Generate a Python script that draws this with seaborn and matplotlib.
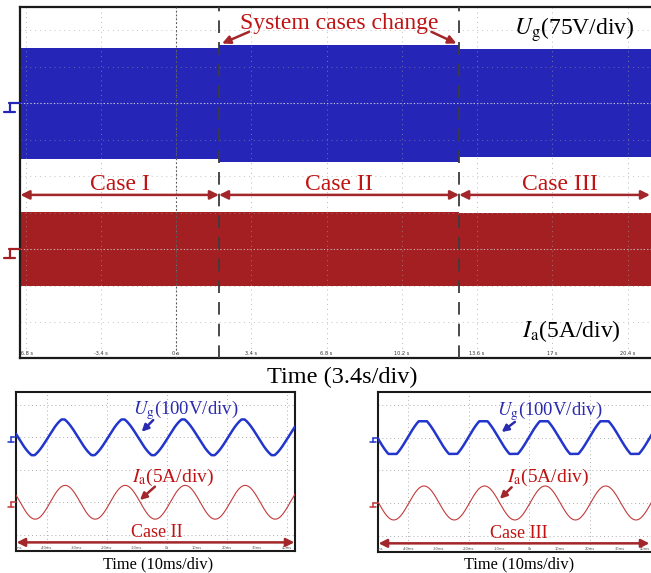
import numpy as np
import pandas as pd
import matplotlib
matplotlib.use("Agg")
import matplotlib.pyplot as plt
from matplotlib.lines import Line2D
from matplotlib.transforms import IdentityTransform
import seaborn as sns

sns.set_theme(style="white")
plt.rcParams["font.family"] = ["Liberation Serif", "DejaVu Serif"]
plt.rcParams["mathtext.fontset"] = "stix"

# ---------------- overview record (3.4 s/div) ----------------
case_names = ["Case I", "Case II", "Case III"]
case_switch_s = [1.94, 12.79]          # instants where the operating case changes
overview_span_s = [-7.05, 21.55]
ug_envelope_v = [114, 120, 111]         # grid-voltage crest in each case
ia_envelope_a = [5.1, 5.1, 5.0]         # phase-current crest in each case
overview_tick_s = [-6.8, -3.4, 0, 3.4, 6.8, 10.2, 13.6, 17, 20.4]
overview_tick_labels = ["-6.8 s", "-3.4 s", "0 s", "3.4 s", "6.8 s",
                        "10.2 s", "13.6 s", "17 s", "20.4 s"]

# ---------------- detailed records (10 ms/div) ----------------
detail_cases = ["Case II", "Case III"]
detail_span_ms = [[-50.3, 42.7], [-50.0, 42.8]]
detail_period_ms = 20.0
detail_ug_peak_v = [110, 100]
detail_ug_crest_ms = [5.4, 4.8]
detail_ug_flatten = [1.06, 1.22]        # crest clipping of the voltage waveform
detail_ia_peak_a = [5.2, 5.2]
detail_ia_crest_ms = [6.1, 5.2]
detail_tick_ms = [-50, -40, -30, -20, -10, 0, 10, 20, 30, 40]
detail_tick_labels = ["-50ms", "-40ms", "-30ms", "-20ms", "-10ms",
                      "0s", "10ms", "20ms", "30ms", "40ms"]

BLUE = "#2525B8"
BLUE_LINE = "#2336CC"
BLUE_TXT = "#2B2BB0"
RED_FILL = "#A31F22"
RED_LINE = "#C23A3A"
RED_TXT = "#C01414"
RED_ARROW = "#A2262A"
GRID = "#9a9a9a"

W, H = 651, 573
fig = plt.figure(figsize=(W / 100, H / 100), dpi=100)
fig.patch.set_facecolor("white")


def add_axes_px(x0, y0, x1, y1):
    return fig.add_axes([x0 / W, 1 - y1 / H, (x1 - x0) / W, (y1 - y0) / H])


def style_frame(ax, lw=1.5):
    ax.set_xticks([])
    ax.set_yticks([])
    ax.set_facecolor("white")
    for s in ax.spines.values():
        s.set_color("#1a1a1a")
        s.set_linewidth(lw)
        s.set_visible(True)


def ground_marker(ax, level, color, scale=1.0):
    # small probe reference symbol to the left of the screen
    x0, y0 = ax.transData.transform((ax.get_xlim()[0], level))
    s = scale
    pts = [
        ([x0 - 11 * s, x0], [y0, y0]),
        ([x0 - 10 * s, x0 - 10 * s], [y0, y0 - 9 * s]),
        ([x0 - 16 * s, x0 - 5 * s], [y0 - 9 * s, y0 - 9 * s]),
    ]
    for xs, ys in pts:
        fig.add_artist(Line2D(xs, ys, transform=IdentityTransform(),
                              color=color, lw=1.6 * max(s, 0.7)))


# ====================== overview screen ======================
ax = add_axes_px(20, 7, 653, 358)
style_frame(ax, 1.6)
ax.spines["right"].set_visible(False)
ax.set_xlim(*overview_span_s)
ax.set_ylim(-2.98, 6.64)
U_DIV, I_DIV = 75.0, 5.0
U_POS, I_POS = 4.0, 0.0

bounds = [overview_span_s[0]] + case_switch_s + [overview_span_s[1]]
seg = pd.DataFrame({
    "case": case_names,
    "t0": bounds[:-1],
    "t1": bounds[1:],
    "ug": ug_envelope_v,
    "ia": ia_envelope_a,
})
for _, r in seg.iterrows():
    ax.fill_between([r.t0, r.t1], U_POS - r.ug / U_DIV, U_POS + r.ug / U_DIV,
                    color=BLUE, lw=0, zorder=1)
    ax.fill_between([r.t0, r.t1], I_POS - r.ia / I_DIV, I_POS + r.ia / I_DIV,
                    color=RED_FILL, lw=0, zorder=1)

# graticule
for t in overview_tick_s:
    ax.axvline(t, color=GRID, lw=0.7, ls=(0, (1, 4)), alpha=0.7, zorder=2)
for yv in range(-2, 7):
    ax.axhline(yv, color=GRID, lw=0.7, ls=(0, (1, 4)), alpha=0.6, zorder=2)
ax.axhline(U_POS, color="#c8c8e8", lw=0.8, ls=(0, (1, 2)), zorder=2)
ax.axhline(I_POS, color="#d8b0b0", lw=0.8, ls=(0, (1, 2)), zorder=2)
ax.axvline(0, color="#555555", lw=0.8, ls=(0, (1.5, 2)), zorder=3)
for t in case_switch_s:
    ax.axvline(t, color="#3c3c3c", lw=1.3, ls=(0, (7, 5)), zorder=3)

for t, lab in zip(overview_tick_s, overview_tick_labels):
    ax.text(t, -2.92, lab, ha="center", va="bottom", fontsize=3.6,
            family="DejaVu Sans", color="#333333", clip_on=True)

# labels on the overview screen
mid_switch = (case_switch_s[0] + case_switch_s[1]) / 2
ax.text(mid_switch, 6.05, "System cases change", ha="center", va="baseline",
        fontsize=17, color=RED_TXT, zorder=5)
ax.annotate("", xy=(2.08, 5.64), xytext=(3.30, 5.96),
            arrowprops=dict(arrowstyle="-|>", color=RED_ARROW, lw=1.8,
                            mutation_scale=12, shrinkA=0, shrinkB=0))
ax.annotate("", xy=(12.67, 5.64), xytext=(11.54, 5.96),
            arrowprops=dict(arrowstyle="-|>", color=RED_ARROW, lw=1.8,
                            mutation_scale=12, shrinkA=0, shrinkB=0))
ax.text(15.28, 5.87, r"$U_{\rm g}$(75V/div)", ha="left", va="baseline",
        fontsize=17, color="black", zorder=5)
ax.text(15.63, -2.40, r"$I_{\rm a}$(5A/div)", ha="left", va="baseline",
        fontsize=17, color="black", zorder=5)

fig.canvas.draw()
right_edge = ax.transData.inverted().transform((W - 1, 0))[0]
arrow_ends = [overview_span_s[0] + 0.02] + case_switch_s + [right_edge]
for i, name in enumerate(case_names):
    a, b = arrow_ends[i], arrow_ends[i + 1]
    ax.annotate("", xy=(b, 1.49), xytext=(a, 1.49),
                arrowprops=dict(arrowstyle="<|-|>", color=RED_ARROW, lw=1.8,
                                mutation_scale=13, shrinkA=0, shrinkB=0))
    ax.text((a + b) / 2 + (0.25 if i == 2 else 0), 1.62, name, ha="center",
            va="baseline", fontsize=17, color=RED_TXT)

ground_marker(ax, U_POS, BLUE)
ground_marker(ax, I_POS, RED_FILL)
fig.text(342 / W, 1 - 382.7 / H, "Time (3.4s/div)", ha="center", va="baseline",
         fontsize=17.5, color="black")

# ====================== detailed screens ======================
panel_px = [(16, 392, 295, 551), (378, 392, 659, 552)]
ug_label_at = [(-11.3, 5.39), (-10.7, 5.37)]
ug_arrow = [((-4.57, 5.06), (-8.43, 4.34)), ((-4.79, 4.96), (-9.17, 4.34))]
ia_label_at = [(-11.67, 1.27), (-7.4, 1.27)]
ia_arrow = [((-4.0, 0.96), (-9.0, 0.14)), ((-5.87, 0.96), (-9.74, 0.25))]
time_label_x = [158, 519]

for k in range(2):
    bx = add_axes_px(*panel_px[k])
    style_frame(bx, 1.5)
    t0, t1 = detail_span_ms[k]
    bx.set_xlim(t0, t1)
    bx.set_ylim(-3.0, 6.79)

    t = np.linspace(t0, t1, 1500)
    c = np.cos(2 * np.pi * (t - detail_ug_crest_ms[k]) / detail_period_ms)
    tri = (2 / np.pi) * np.arcsin(c)
    ug = np.clip(detail_ug_flatten[k] * (0.5 * c + 0.5 * tri), -1, 1) * detail_ug_peak_v[k]
    ia = detail_ia_peak_a[k] * np.cos(2 * np.pi * (t - detail_ia_crest_ms[k]) / detail_period_ms)
    df = pd.DataFrame({"t": t, "ug": U_POS + ug / 100.0, "ia": I_POS + ia / 5.0})

    for tv in detail_tick_ms[1::2]:
        bx.axvline(tv, color=GRID, lw=0.7, ls=(0, (1, 3)), alpha=0.8, zorder=1)
    for yv in [-2, 0, 2, 4, 6]:
        bx.axhline(yv, color=GRID, lw=0.7, ls=(0, (1, 3)), alpha=0.8, zorder=1)

    sns.lineplot(data=df, x="t", y="ug", ax=bx, color=BLUE_LINE, lw=1.8,
                 estimator=None, sort=False, zorder=3)
    sns.lineplot(data=df, x="t", y="ia", ax=bx, color=RED_LINE, lw=0.8,
                 estimator=None, sort=False, zorder=3)
    bx.set_xlabel("")
    bx.set_ylabel("")
    bx.set_xticks([])
    bx.set_yticks([])

    fig.canvas.draw()
    fig_right = bx.transData.inverted().transform((W - 1, 0))[0]
    for tv, lab in zip(detail_tick_ms, detail_tick_labels):
        near_edge = tv > fig_right - 2.5
        bx.text(min(tv, fig_right) if near_edge else tv, -2.96, lab,
                ha="right" if near_edge else "center", va="bottom",
                fontsize=2.6, family="DejaVu Sans", color="#555555", clip_on=True)

    bx.text(*ug_label_at[k], r"$U_{\rm g}$(100V/div)", ha="left", va="baseline",
            fontsize=13.5, color=BLUE_TXT)
    bx.annotate("", xy=ug_arrow[k][1], xytext=ug_arrow[k][0],
                arrowprops=dict(arrowstyle="-|>", color=BLUE_TXT, lw=1.8,
                                mutation_scale=10, shrinkA=0, shrinkB=0))
    bx.text(*ia_label_at[k], r"$I_{\rm a}$(5A/div)", ha="left", va="baseline",
            fontsize=14, color=RED_TXT)
    bx.annotate("", xy=ia_arrow[k][1], xytext=ia_arrow[k][0],
                arrowprops=dict(arrowstyle="-|>", color=RED_ARROW, lw=1.8,
                                mutation_scale=10, shrinkA=0, shrinkB=0))

    end_x = min(t1, fig_right)
    bx.annotate("", xy=(end_x - 0.2, -2.47), xytext=(t0 + 0.2, -2.47),
                arrowprops=dict(arrowstyle="<|-|>", color=RED_ARROW, lw=1.8,
                                mutation_scale=12, shrinkA=0, shrinkB=0))
    bx.text((t0 + end_x) / 2 + (1.5 if k == 1 else 0.5), -2.12, detail_cases[k],
            ha="center", va="baseline", fontsize=13, color=RED_TXT)

    ground_marker(bx, U_POS, BLUE_LINE, 0.5)
    ground_marker(bx, I_POS, RED_LINE, 0.5)
    fig.text(time_label_x[k] / W, 1 - 568 / H, "Time (10ms/div)", ha="center",
             va="baseline", fontsize=11.8, color="black")

fig.savefig("out.png", dpi=100, facecolor="white")
